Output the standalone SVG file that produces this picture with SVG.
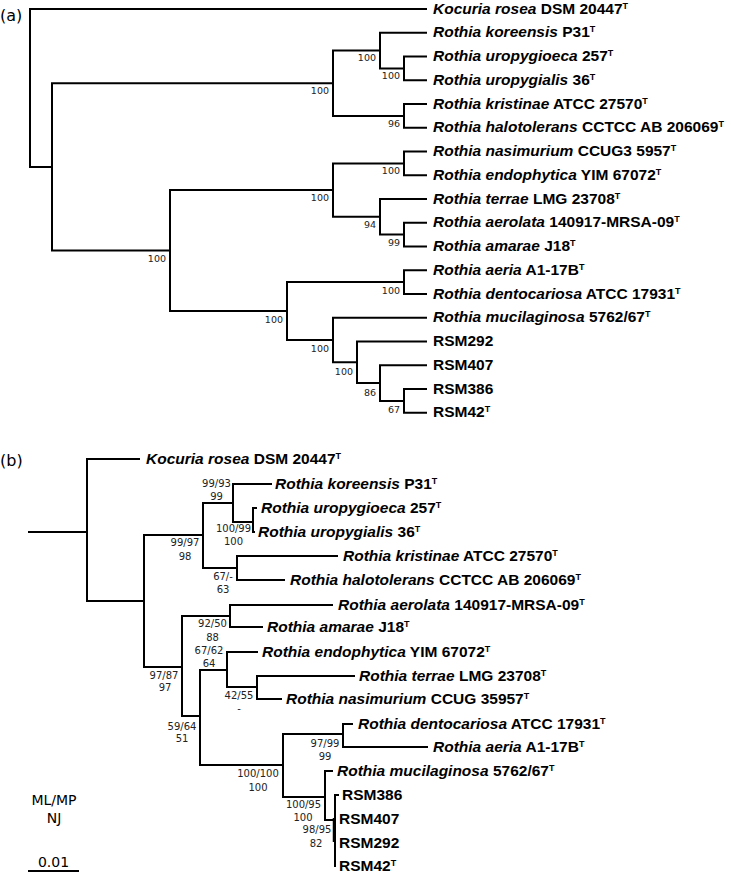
<svg xmlns="http://www.w3.org/2000/svg" width="731" height="873" viewBox="0 0 731 873">
<style>
.br{fill:none;stroke:#000;stroke-width:2;stroke-linejoin:miter}
.tip{font-family:"Liberation Sans",Arial,sans-serif;font-weight:bold;font-size:15.5px;fill:#000}
.i{font-style:italic}
.sup{font-size:9px;font-style:normal}
.bs{font-family:"DejaVu Sans",Verdana,sans-serif;font-size:9.5px;fill:#222;text-anchor:end}
.bs2{font-family:"DejaVu Sans",Verdana,sans-serif;font-size:10px;fill:#222;text-anchor:middle}
.pl{font-family:"DejaVu Sans",Verdana,sans-serif;font-size:16px;fill:#000}
.leg{font-family:"DejaVu Sans",Verdana,sans-serif;font-size:14px;fill:#000;text-anchor:middle}
</style>
<rect width="731" height="873" fill="#fff"/>
<text class="pl" x="0" y="21">(a)</text>
<text class="pl" x="0" y="466">(b)</text>

<g id="connectors">
<!-- panel a -->
<path class="br" d="M427,9 H30 V167 H52"/>
<path class="br" d="M333,83.3 H52 V250.5 H170"/>
<path class="br" d="M380,50.6 H333 V116 H404"/>
<path class="br" d="M427,32.75 H380 V68.4 H404"/>
<path class="br" d="M427,56.5 H404 V80.25 H427"/>
<path class="br" d="M427,104 H404 V127.75 H427"/>
<path class="br" d="M333,190.1 H170 V311 H287"/>
<path class="br" d="M404,163.4 H333 V216.8 H380"/>
<path class="br" d="M427,151.5 H404 V175.25 H427"/>
<path class="br" d="M427,199 H380 V234.6 H404"/>
<path class="br" d="M427,222.75 H404 V246.5 H427"/>
<path class="br" d="M404,282.1 H287 V340 H333"/>
<path class="br" d="M427,270.25 H404 V294 H427"/>
<path class="br" d="M427,317.75 H333 V362.3 H357"/>
<path class="br" d="M427,341.5 H357 V383 H380"/>
<path class="br" d="M427,365.25 H380 V400.9 H404"/>
<path class="br" d="M427,389 H404 V412.75 H427"/>
<!-- panel b -->
<path class="br" d="M28,532 H87"/>
<path class="br" d="M140,459 H87 V601 H144"/>
<path class="br" d="M203,535 H144 V667 H182"/>
<path class="br" d="M233,503 H203 V568 H237"/>
<path class="br" d="M272,484 H233 V522 H253"/>
<path class="br" d="M257,508 H253 V532 H255"/>
<path class="br" d="M338,556 H237 V580 H285"/>
<path class="br" d="M230,616 H182 V716 H200"/>
<path class="br" d="M333,605 H230 V627 H263"/>
<path class="br" d="M227,670 H200 V765 H283"/>
<path class="br" d="M258,652 H227 V687 H257"/>
<path class="br" d="M355,676 H257 V699 H282"/>
<path class="br" d="M343,734 H283 V797 H325"/>
<path class="br" d="M353,724 H343 V747 H428"/>
<path class="br" d="M333,771 H325 V820 H335"/>
<path class="br" d="M339,795 H335 V867"/>
<path class="br" d="M333.5,818 V842" style="stroke-width:1.5"/>
</g>

<!-- panel a tips -->
<g id="a-kocuria"><text class="tip" x="433" y="13.5"><tspan class="i">Kocuria rosea</tspan> DSM 20447<tspan class="sup" dy="-5">T</tspan></text></g>
<g id="a-koreensis"><text class="tip" x="433" y="37.25"><tspan class="i">Rothia koreensis</tspan> P31<tspan class="sup" dy="-5">T</tspan></text></g>
<g id="a-uropygioeca"><text class="tip" x="433" y="61"><tspan class="i">Rothia uropygioeca</tspan> 257<tspan class="sup" dy="-5">T</tspan></text></g>
<g id="a-uropygialis"><text class="tip" x="433" y="84.75"><tspan class="i">Rothia uropygialis</tspan> 36<tspan class="sup" dy="-5">T</tspan></text></g>
<g id="a-kristinae"><text class="tip" x="433" y="108.5"><tspan class="i">Rothia kristinae</tspan> ATCC 27570<tspan class="sup" dy="-5">T</tspan></text></g>
<g id="a-halotolerans"><text class="tip" x="433" y="132.25"><tspan class="i">Rothia halotolerans</tspan> CCTCC AB 206069<tspan class="sup" dy="-5">T</tspan></text></g>
<g id="a-nasimurium"><text class="tip" x="433" y="156"><tspan class="i">Rothia nasimurium</tspan> CCUG3 5957<tspan class="sup" dy="-5">T</tspan></text></g>
<g id="a-endophytica"><text class="tip" x="433" y="179.75"><tspan class="i">Rothia endophytica</tspan> YIM 67072<tspan class="sup" dy="-5">T</tspan></text></g>
<g id="a-terrae"><text class="tip" x="433" y="203.5"><tspan class="i">Rothia terrae</tspan> LMG 23708<tspan class="sup" dy="-5">T</tspan></text></g>
<g id="a-aerolata"><text class="tip" x="433" y="227.25"><tspan class="i">Rothia aerolata</tspan> 140917-MRSA-09<tspan class="sup" dy="-5">T</tspan></text></g>
<g id="a-amarae"><text class="tip" x="433" y="251"><tspan class="i">Rothia amarae</tspan> J18<tspan class="sup" dy="-5">T</tspan></text></g>
<g id="a-aeria"><text class="tip" x="433" y="274.75"><tspan class="i">Rothia aeria</tspan> A1-17B<tspan class="sup" dy="-5">T</tspan></text></g>
<g id="a-dentocariosa"><text class="tip" x="433" y="298.5"><tspan class="i">Rothia dentocariosa</tspan> ATCC 17931<tspan class="sup" dy="-5">T</tspan></text></g>
<g id="a-mucilaginosa"><text class="tip" x="433" y="322.25"><tspan class="i">Rothia mucilaginosa</tspan> 5762/67<tspan class="sup" dy="-5">T</tspan></text></g>
<g id="a-rsm292"><text class="tip" x="433" y="346">RSM292</text></g>
<g id="a-rsm407"><text class="tip" x="433" y="369.75">RSM407</text></g>
<g id="a-rsm386"><text class="tip" x="433" y="393.5">RSM386</text></g>
<g id="a-rsm42"><text class="tip" x="433" y="417.25">RSM42<tspan class="sup" dy="-5">T</tspan></text></g>

<!-- panel a supports -->
<g id="a-nB"><text class="bs" x="329" y="93.5">100</text></g>
<g id="a-nB1"><text class="bs" x="376" y="60.5">100</text></g>
<g id="a-nB1a"><text class="bs" x="400" y="78.5">100</text></g>
<g id="a-nB2"><text class="bs" x="400" y="126.5">96</text></g>
<g id="a-nC"><text class="bs" x="166" y="261.5">100</text></g>
<g id="a-nC1"><text class="bs" x="329" y="200.5">100</text></g>
<g id="a-nC1a"><text class="bs" x="400" y="173.5">100</text></g>
<g id="a-nC1b"><text class="bs" x="376" y="227.5">94</text></g>
<g id="a-nC1b1"><text class="bs" x="400" y="245.5">99</text></g>
<g id="a-nC2"><text class="bs" x="283" y="322.5">100</text></g>
<g id="a-nC2a"><text class="bs" x="400" y="293.5">100</text></g>
<g id="a-nC2b"><text class="bs" x="329" y="351.5">100</text></g>
<g id="a-nC2b1"><text class="bs" x="353" y="374.5">100</text></g>
<g id="a-nC2b2"><text class="bs" x="376" y="395.5">86</text></g>
<g id="a-nC2b3"><text class="bs" x="400" y="412.5">67</text></g>

<!-- panel b tips -->
<g id="b-kocuria"><text class="tip" x="146" y="463.5"><tspan class="i">Kocuria rosea</tspan> DSM 20447<tspan class="sup" dy="-5">T</tspan></text></g>
<g id="b-koreensis"><text class="tip" x="275" y="488.5"><tspan class="i">Rothia koreensis</tspan> P31<tspan class="sup" dy="-5">T</tspan></text></g>
<g id="b-uropygioeca"><text class="tip" x="261" y="512.5"><tspan class="i">Rothia uropygioeca</tspan> 257<tspan class="sup" dy="-5">T</tspan></text></g>
<g id="b-uropygialis"><text class="tip" x="258" y="536.5"><tspan class="i">Rothia uropygialis</tspan> 36<tspan class="sup" dy="-5">T</tspan></text></g>
<g id="b-kristinae"><text class="tip" x="343" y="560.5"><tspan class="i">Rothia kristinae</tspan> ATCC 27570<tspan class="sup" dy="-5">T</tspan></text></g>
<g id="b-halotolerans"><text class="tip" x="290" y="584.5"><tspan class="i">Rothia halotolerans</tspan> CCTCC AB 206069<tspan class="sup" dy="-5">T</tspan></text></g>
<g id="b-aerolata"><text class="tip" x="338" y="609.5"><tspan class="i">Rothia aerolata</tspan> 140917-MRSA-09<tspan class="sup" dy="-5">T</tspan></text></g>
<g id="b-amarae"><text class="tip" x="267" y="631.5"><tspan class="i">Rothia amarae</tspan> J18<tspan class="sup" dy="-5">T</tspan></text></g>
<g id="b-endophytica"><text class="tip" x="262" y="656.5"><tspan class="i">Rothia endophytica</tspan> YIM 67072<tspan class="sup" dy="-5">T</tspan></text></g>
<g id="b-terrae"><text class="tip" x="359" y="680.5"><tspan class="i">Rothia terrae</tspan> LMG 23708<tspan class="sup" dy="-5">T</tspan></text></g>
<g id="b-nasimurium"><text class="tip" x="286" y="703.5"><tspan class="i">Rothia nasimurium</tspan> CCUG 35957<tspan class="sup" dy="-5">T</tspan></text></g>
<g id="b-dentocariosa"><text class="tip" x="358" y="728.5"><tspan class="i">Rothia dentocariosa</tspan> ATCC 17931<tspan class="sup" dy="-5">T</tspan></text></g>
<g id="b-aeria"><text class="tip" x="433" y="751.5"><tspan class="i">Rothia aeria</tspan> A1-17B<tspan class="sup" dy="-5">T</tspan></text></g>
<g id="b-mucilaginosa"><text class="tip" x="337" y="775.5"><tspan class="i">Rothia mucilaginosa</tspan> 5762/67<tspan class="sup" dy="-5">T</tspan></text></g>
<g id="b-rsm386"><text class="tip" x="342" y="799.5">RSM386</text></g>
<g id="b-rsm407"><text class="tip" x="339" y="823.5">RSM407</text></g>
<g id="b-rsm292"><text class="tip" x="339" y="847.5">RSM292</text></g>
<g id="b-rsm42"><text class="tip" x="339" y="870.5">RSM42<tspan class="sup" dy="-5">T</tspan></text></g>

<!-- panel b supports -->
<g id="b-n2"><text class="bs2" x="185" y="545.6">99/97</text><text class="bs2" x="185" y="559.6">98</text></g>
<g id="b-n3"><text class="bs2" x="216.5" y="486.6">99/93</text><text class="bs2" x="216.5" y="499.6">99</text></g>
<g id="b-n4"><text class="bs2" x="233.5" y="531.6">100/99</text><text class="bs2" x="233.5" y="544.6">100</text></g>
<g id="b-n5"><text class="bs2" x="223" y="579.6">67/-</text><text class="bs2" x="223" y="592.6">63</text></g>
<g id="b-n6"><text class="bs2" x="164" y="678.6">97/87</text><text class="bs2" x="165" y="690.6">97</text></g>
<g id="b-n7"><text class="bs2" x="212.5" y="626.6">92/50</text><text class="bs2" x="212.5" y="640.6">88</text></g>
<g id="b-n9"><text class="bs2" x="209" y="653.6">67/62</text><text class="bs2" x="209" y="666.6">64</text></g>
<g id="b-n10"><text class="bs2" x="239" y="698.6">42/55</text><text class="bs2" x="239" y="711.6">-</text></g>
<g id="b-n8"><text class="bs2" x="182" y="729.6">59/64</text><text class="bs2" x="182" y="741.6">51</text></g>
<g id="b-n11"><text class="bs2" x="258" y="776.6">100/100</text><text class="bs2" x="258" y="790.6">100</text></g>
<g id="b-n12"><text class="bs2" x="325" y="746.6">97/99</text><text class="bs2" x="325" y="759.6">99</text></g>
<g id="b-n13"><text class="bs2" x="303.5" y="807.6">100/95</text><text class="bs2" x="303" y="820.6">100</text></g>
<g id="b-n14"><text class="bs2" x="317" y="832.6">98/95</text><text class="bs2" x="316" y="846.6">82</text></g>

<g id="legend">
<text class="leg" x="54" y="805">ML/MP</text>
<text class="leg" x="54" y="823">NJ</text>
<text class="leg" x="53.5" y="867">0.01</text>
<path class="br" d="M28,871 H79"/>
</g>
</svg>
